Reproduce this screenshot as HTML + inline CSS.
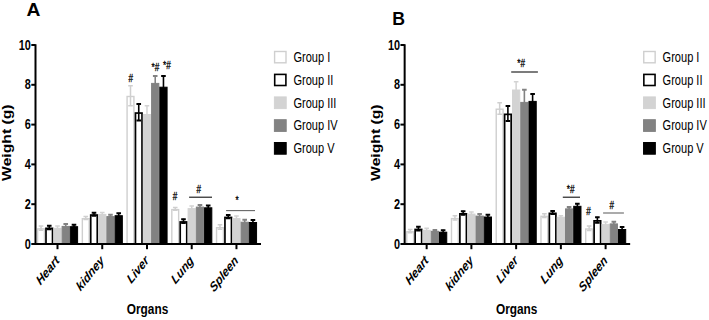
<!DOCTYPE html>
<html><head><meta charset="utf-8"><style>
html,body{margin:0;padding:0;background:#fff;}
svg{display:block;}
text{font-family:"Liberation Sans",sans-serif;fill:#000;}
.tl{font-size:14px;font-weight:bold;}
.xl{font-size:13.5px;font-weight:bold;font-style:italic;}
.yt{font-size:15.7px;font-weight:bold;}
.xt{font-size:15px;font-weight:bold;}
.lg{font-size:14px;}
.an{font-size:10.3px;}
.pl{font-size:18px;font-weight:bold;}
</style></head><body>
<svg width="709" height="320" viewBox="0 0 709 320">
<rect width="709" height="320" fill="#fff"/>
<rect x="37.6" y="228.9" width="6.84" height="15.1" fill="#ffffff" stroke="#cfcfcf" stroke-width="1.4"/>
<path d="M41.02 225.9V230.5" stroke="#cfcfcf" stroke-width="1.5" fill="none"/>
<path d="M38.72 226.05H43.32M38.72 230.35H43.32" stroke="#cfcfcf" stroke-width="1.5" fill="none"/>
<rect x="45.99" y="228.35" width="6.54" height="15.65" fill="#ffffff" stroke="#000000" stroke-width="1.7"/>
<path d="M49.26 225.3V229.7" stroke="#000000" stroke-width="1.6" fill="none"/>
<path d="M46.96 225.7H51.56M46.96 229.3H51.56" stroke="#000000" stroke-width="2.0" fill="none"/>
<rect x="53.88" y="228.3" width="7.24" height="15.7" fill="#d3d3d3" stroke="#d3d3d3" stroke-width="1"/>
<path d="M57.5 225.9V229.7" stroke="#d3d3d3" stroke-width="1.5" fill="none"/>
<path d="M55.2 226.05H59.8M55.2 229.55H59.8" stroke="#d3d3d3" stroke-width="1.5" fill="none"/>
<rect x="62.12" y="226.4" width="7.24" height="17.6" fill="#828282" stroke="#828282" stroke-width="1"/>
<path d="M65.74 223.7V228.1" stroke="#828282" stroke-width="1.6" fill="none"/>
<path d="M63.44 224.1H68.04M63.44 227.7H68.04" stroke="#828282" stroke-width="2.0" fill="none"/>
<rect x="70.36" y="226.7" width="7.24" height="17.3" fill="#000000" stroke="#000000" stroke-width="1"/>
<path d="M73.98 224.3V228.1" stroke="#000000" stroke-width="1.6" fill="none"/>
<path d="M71.68 224.7H76.28M71.68 227.7H76.28" stroke="#000000" stroke-width="2.0" fill="none"/>
<rect x="82.34" y="218.7" width="6.84" height="25.3" fill="#ffffff" stroke="#cfcfcf" stroke-width="1.4"/>
<path d="M85.76 216.4V219.6" stroke="#cfcfcf" stroke-width="1.5" fill="none"/>
<path d="M83.46 216.55H88.06M83.46 219.45H88.06" stroke="#cfcfcf" stroke-width="1.5" fill="none"/>
<rect x="90.73" y="215.05" width="6.54" height="28.95" fill="#ffffff" stroke="#000000" stroke-width="1.7"/>
<path d="M94 212.3V216.1" stroke="#000000" stroke-width="1.6" fill="none"/>
<path d="M91.7 212.7H96.3M91.7 215.7H96.3" stroke="#000000" stroke-width="2.0" fill="none"/>
<rect x="98.62" y="214.4" width="7.24" height="29.6" fill="#d3d3d3" stroke="#d3d3d3" stroke-width="1"/>
<path d="M102.24 212.3V215.5" stroke="#d3d3d3" stroke-width="1.5" fill="none"/>
<path d="M99.94 212.45H104.54M99.94 215.35H104.54" stroke="#d3d3d3" stroke-width="1.5" fill="none"/>
<rect x="106.86" y="216.6" width="7.24" height="27.4" fill="#828282" stroke="#828282" stroke-width="1"/>
<path d="M110.48 214.4V217.8" stroke="#828282" stroke-width="1.6" fill="none"/>
<path d="M108.18 214.8H112.78M108.18 217.4H112.78" stroke="#828282" stroke-width="2.0" fill="none"/>
<rect x="115.1" y="215.7" width="7.24" height="28.3" fill="#000000" stroke="#000000" stroke-width="1"/>
<path d="M118.72 212.9V217.5" stroke="#000000" stroke-width="1.6" fill="none"/>
<path d="M116.42 213.3H121.02M116.42 217.1H121.02" stroke="#000000" stroke-width="2.0" fill="none"/>
<rect x="127.08" y="96.5" width="6.84" height="147.5" fill="#ffffff" stroke="#cfcfcf" stroke-width="1.4"/>
<path d="M130.5 85.6V106" stroke="#cfcfcf" stroke-width="1.5" fill="none"/>
<path d="M128.2 85.75H132.8M128.2 105.85H132.8" stroke="#cfcfcf" stroke-width="1.5" fill="none"/>
<rect x="135.47" y="113.05" width="6.54" height="130.95" fill="#ffffff" stroke="#000000" stroke-width="1.7"/>
<path d="M138.74 103.5V120.9" stroke="#000000" stroke-width="1.6" fill="none"/>
<path d="M136.44 103.9H141.04M136.44 120.5H141.04" stroke="#000000" stroke-width="2.0" fill="none"/>
<rect x="143.36" y="114.5" width="7.24" height="129.5" fill="#d3d3d3" stroke="#d3d3d3" stroke-width="1"/>
<path d="M146.98 105.7V122.3" stroke="#d3d3d3" stroke-width="1.5" fill="none"/>
<path d="M144.68 105.85H149.28M144.68 122.15H149.28" stroke="#d3d3d3" stroke-width="1.5" fill="none"/>
<rect x="151.6" y="83.4" width="7.24" height="160.6" fill="#828282" stroke="#828282" stroke-width="1"/>
<path d="M155.22 75.7V90.1" stroke="#828282" stroke-width="1.6" fill="none"/>
<path d="M152.92 76.1H157.52M152.92 89.7H157.52" stroke="#828282" stroke-width="2.0" fill="none"/>
<rect x="159.84" y="87.2" width="7.24" height="156.8" fill="#000000" stroke="#000000" stroke-width="1"/>
<path d="M163.46 75.7V97.7" stroke="#000000" stroke-width="1.6" fill="none"/>
<path d="M161.16 76.1H165.76M161.16 97.3H165.76" stroke="#000000" stroke-width="2.0" fill="none"/>
<rect x="171.82" y="209.6" width="6.84" height="34.4" fill="#ffffff" stroke="#cfcfcf" stroke-width="1.4"/>
<path d="M175.24 207.3V210.5" stroke="#cfcfcf" stroke-width="1.5" fill="none"/>
<path d="M172.94 207.45H177.54M172.94 210.35H177.54" stroke="#cfcfcf" stroke-width="1.5" fill="none"/>
<rect x="180.21" y="221.95" width="6.54" height="22.05" fill="#ffffff" stroke="#000000" stroke-width="1.7"/>
<path d="M183.48 218.75V223.45" stroke="#000000" stroke-width="1.6" fill="none"/>
<path d="M181.18 219.15H185.78M181.18 223.05H185.78" stroke="#000000" stroke-width="2.0" fill="none"/>
<rect x="188.1" y="208.6" width="7.24" height="35.4" fill="#d3d3d3" stroke="#d3d3d3" stroke-width="1"/>
<path d="M191.72 205.8V210.4" stroke="#d3d3d3" stroke-width="1.5" fill="none"/>
<path d="M189.42 205.95H194.02M189.42 210.25H194.02" stroke="#d3d3d3" stroke-width="1.5" fill="none"/>
<rect x="196.34" y="207.1" width="7.24" height="36.9" fill="#828282" stroke="#828282" stroke-width="1"/>
<path d="M199.96 204.5V208.7" stroke="#828282" stroke-width="1.6" fill="none"/>
<path d="M197.66 204.9H202.26M197.66 208.3H202.26" stroke="#828282" stroke-width="2.0" fill="none"/>
<rect x="204.58" y="207.8" width="7.24" height="36.2" fill="#000000" stroke="#000000" stroke-width="1"/>
<path d="M208.2 205V209.6" stroke="#000000" stroke-width="1.6" fill="none"/>
<path d="M205.9 205.4H210.5M205.9 209.2H210.5" stroke="#000000" stroke-width="2.0" fill="none"/>
<rect x="216.56" y="227.7" width="6.84" height="16.3" fill="#ffffff" stroke="#cfcfcf" stroke-width="1.4"/>
<path d="M219.98 224.7V229.3" stroke="#cfcfcf" stroke-width="1.5" fill="none"/>
<path d="M217.68 224.85H222.28M217.68 229.15H222.28" stroke="#cfcfcf" stroke-width="1.5" fill="none"/>
<rect x="224.95" y="217.45" width="6.54" height="26.55" fill="#ffffff" stroke="#000000" stroke-width="1.7"/>
<path d="M228.22 214.5V218.7" stroke="#000000" stroke-width="1.6" fill="none"/>
<path d="M225.92 214.9H230.52M225.92 218.3H230.52" stroke="#000000" stroke-width="2.0" fill="none"/>
<rect x="232.84" y="218.6" width="7.24" height="25.4" fill="#d3d3d3" stroke="#d3d3d3" stroke-width="1"/>
<path d="M236.46 215.8V220.4" stroke="#d3d3d3" stroke-width="1.5" fill="none"/>
<path d="M234.16 215.95H238.76M234.16 220.25H238.76" stroke="#d3d3d3" stroke-width="1.5" fill="none"/>
<rect x="241.08" y="222.2" width="7.24" height="21.8" fill="#828282" stroke="#828282" stroke-width="1"/>
<path d="M244.7 219.4V224" stroke="#828282" stroke-width="1.6" fill="none"/>
<path d="M242.4 219.8H247M242.4 223.6H247" stroke="#828282" stroke-width="2.0" fill="none"/>
<rect x="249.32" y="222.5" width="7.24" height="21.5" fill="#000000" stroke="#000000" stroke-width="1"/>
<path d="M252.94 219.7V224.3" stroke="#000000" stroke-width="1.6" fill="none"/>
<path d="M250.64 220.1H255.24M250.64 223.9H255.24" stroke="#000000" stroke-width="2.0" fill="none"/>
<path d="M35.5 44.2V245M34.5 244H261" stroke="#000" stroke-width="2" fill="none"/>
<path d="M31.3 244H35.5" stroke="#000" stroke-width="2"/>
<text transform="translate(30.9,248.6) scale(0.78,1)" text-anchor="end" class="tl">0</text>
<path d="M31.3 204.2H35.5" stroke="#000" stroke-width="2"/>
<text transform="translate(30.9,208.8) scale(0.78,1)" text-anchor="end" class="tl">2</text>
<path d="M31.3 164.4H35.5" stroke="#000" stroke-width="2"/>
<text transform="translate(30.9,169) scale(0.78,1)" text-anchor="end" class="tl">4</text>
<path d="M31.3 124.6H35.5" stroke="#000" stroke-width="2"/>
<text transform="translate(30.9,129.2) scale(0.78,1)" text-anchor="end" class="tl">6</text>
<path d="M31.3 84.8H35.5" stroke="#000" stroke-width="2"/>
<text transform="translate(30.9,89.4) scale(0.78,1)" text-anchor="end" class="tl">8</text>
<path d="M31.3 45H35.5" stroke="#000" stroke-width="2"/>
<text transform="translate(30.9,49.6) scale(0.78,1)" text-anchor="end" class="tl">10</text>
<path d="M57.5 244V249.2" stroke="#000" stroke-width="2"/>
<text transform="translate(60,261.4) scale(0.8,1) rotate(-45)" text-anchor="end" class="xl">Heart</text>
<path d="M102.24 244V249.2" stroke="#000" stroke-width="2"/>
<text transform="translate(104.74,261.4) scale(0.8,1) rotate(-45)" text-anchor="end" class="xl">kidney</text>
<path d="M146.98 244V249.2" stroke="#000" stroke-width="2"/>
<text transform="translate(149.48,261.4) scale(0.8,1) rotate(-45)" text-anchor="end" class="xl">Liver</text>
<path d="M191.72 244V249.2" stroke="#000" stroke-width="2"/>
<text transform="translate(194.22,261.4) scale(0.8,1) rotate(-45)" text-anchor="end" class="xl">Lung</text>
<path d="M236.46 244V249.2" stroke="#000" stroke-width="2"/>
<text transform="translate(238.96,261.4) scale(0.8,1) rotate(-45)" text-anchor="end" class="xl">Spleen</text>
<text transform="translate(10.8,142.7) scale(0.8,1) rotate(-90)" text-anchor="middle" class="yt">Weight (g)</text>
<text transform="translate(147.5,313.6) scale(0.79,1)" text-anchor="middle" class="xt">Organs</text>
<rect x="274.6" y="51.5" width="11.4" height="11.3" fill="#ffffff" stroke="#cfcfcf" stroke-width="1.4"/>
<text transform="translate(293.4,61.9) scale(0.79,1)" class="lg">Group I</text>
<rect x="274.7" y="74.4" width="11.2" height="11.1" fill="#ffffff" stroke="#000000" stroke-width="1.6"/>
<text transform="translate(293.4,84.7) scale(0.79,1)" class="lg">Group II</text>
<rect x="274.4" y="96.9" width="11.8" height="11.7" fill="#d3d3d3" stroke="#d3d3d3" stroke-width="1"/>
<text transform="translate(293.4,107.5) scale(0.79,1)" class="lg">Group III</text>
<rect x="274.4" y="119.7" width="11.8" height="11.7" fill="#828282" stroke="#828282" stroke-width="1"/>
<text transform="translate(293.4,130.3) scale(0.79,1)" class="lg">Group IV</text>
<rect x="274.4" y="142.5" width="11.8" height="11.7" fill="#000000" stroke="#000000" stroke-width="1"/>
<text transform="translate(293.4,153.1) scale(0.79,1)" class="lg">Group V</text>
<text transform="translate(130.7,82.2) scale(0.79,1)" text-anchor="middle" class="an" stroke="#000" stroke-width="0.3">#</text>
<text transform="translate(155.4,70.6) scale(0.79,1)" text-anchor="middle" class="an" stroke="#000" stroke-width="0.3">*#</text>
<text transform="translate(166.9,68.7) scale(0.79,1)" text-anchor="middle" class="an" stroke="#000" stroke-width="0.3">*#</text>
<text transform="translate(175,199.5) scale(0.79,1)" text-anchor="middle" class="an" stroke="#000" stroke-width="0.3">#</text>
<path d="M189.1 197.2H212" stroke="#111" stroke-width="1.1"/>
<text transform="translate(198.7,192.8) scale(0.79,1)" text-anchor="middle" class="an" stroke="#000" stroke-width="0.3">#</text>
<path d="M226.1 210.6H255" stroke="#666" stroke-width="1.1"/>
<text transform="translate(237.2,204) scale(0.79,1)" text-anchor="middle" class="an" stroke="#000" stroke-width="0.3">*</text>
<text transform="translate(26.5,15.7) scale(1.07,1)" class="pl">A</text>
<rect x="406.75" y="231.8" width="6.84" height="12.2" fill="#ffffff" stroke="#cfcfcf" stroke-width="1.4"/>
<path d="M410.17 229.4V232.8" stroke="#cfcfcf" stroke-width="1.5" fill="none"/>
<path d="M407.87 229.55H412.47M407.87 232.65H412.47" stroke="#cfcfcf" stroke-width="1.5" fill="none"/>
<rect x="415.14" y="229.45" width="6.54" height="14.55" fill="#ffffff" stroke="#000000" stroke-width="1.7"/>
<path d="M418.41 226.3V230.9" stroke="#000000" stroke-width="1.6" fill="none"/>
<path d="M416.11 226.7H420.71M416.11 230.5H420.71" stroke="#000000" stroke-width="2.0" fill="none"/>
<rect x="423.03" y="230.3" width="7.24" height="13.7" fill="#d3d3d3" stroke="#d3d3d3" stroke-width="1"/>
<path d="M426.65 228.1V231.5" stroke="#d3d3d3" stroke-width="1.5" fill="none"/>
<path d="M424.35 228.25H428.95M424.35 231.35H428.95" stroke="#d3d3d3" stroke-width="1.5" fill="none"/>
<rect x="431.27" y="231.3" width="7.24" height="12.7" fill="#828282" stroke="#828282" stroke-width="1"/>
<path d="M434.89 229.5V232.1" stroke="#828282" stroke-width="1.6" fill="none"/>
<path d="M432.59 229.9H437.19M432.59 231.7H437.19" stroke="#828282" stroke-width="2.0" fill="none"/>
<rect x="439.51" y="232.2" width="7.24" height="11.8" fill="#000000" stroke="#000000" stroke-width="1"/>
<path d="M443.13 229.8V233.6" stroke="#000000" stroke-width="1.6" fill="none"/>
<path d="M440.83 230.2H445.43M440.83 233.2H445.43" stroke="#000000" stroke-width="2.0" fill="none"/>
<rect x="451.49" y="218.6" width="6.84" height="25.4" fill="#ffffff" stroke="#cfcfcf" stroke-width="1.4"/>
<path d="M454.91 215.6V220.2" stroke="#cfcfcf" stroke-width="1.5" fill="none"/>
<path d="M452.61 215.75H457.21M452.61 220.05H457.21" stroke="#cfcfcf" stroke-width="1.5" fill="none"/>
<rect x="459.88" y="213.85" width="6.54" height="30.15" fill="#ffffff" stroke="#000000" stroke-width="1.7"/>
<path d="M463.15 210.8V215.2" stroke="#000000" stroke-width="1.6" fill="none"/>
<path d="M460.85 211.2H465.45M460.85 214.8H465.45" stroke="#000000" stroke-width="2.0" fill="none"/>
<rect x="467.77" y="214.1" width="7.24" height="29.9" fill="#d3d3d3" stroke="#d3d3d3" stroke-width="1"/>
<path d="M471.39 211.8V215.4" stroke="#d3d3d3" stroke-width="1.5" fill="none"/>
<path d="M469.09 211.95H473.69M469.09 215.25H473.69" stroke="#d3d3d3" stroke-width="1.5" fill="none"/>
<rect x="476.01" y="216.1" width="7.24" height="27.9" fill="#828282" stroke="#828282" stroke-width="1"/>
<path d="M479.63 213.6V217.6" stroke="#828282" stroke-width="1.6" fill="none"/>
<path d="M477.33 214H481.93M477.33 217.2H481.93" stroke="#828282" stroke-width="2.0" fill="none"/>
<rect x="484.25" y="217" width="7.24" height="27" fill="#000000" stroke="#000000" stroke-width="1"/>
<path d="M487.87 214.4V218.6" stroke="#000000" stroke-width="1.6" fill="none"/>
<path d="M485.57 214.8H490.17M485.57 218.2H490.17" stroke="#000000" stroke-width="2.0" fill="none"/>
<rect x="496.23" y="109.2" width="6.84" height="134.8" fill="#ffffff" stroke="#cfcfcf" stroke-width="1.4"/>
<path d="M499.65 102.6V114.4" stroke="#cfcfcf" stroke-width="1.5" fill="none"/>
<path d="M497.35 102.75H501.95M497.35 114.25H501.95" stroke="#cfcfcf" stroke-width="1.5" fill="none"/>
<rect x="504.62" y="114.35" width="6.54" height="129.65" fill="#ffffff" stroke="#000000" stroke-width="1.7"/>
<path d="M507.89 105.7V121.3" stroke="#000000" stroke-width="1.6" fill="none"/>
<path d="M505.59 106.1H510.19M505.59 120.9H510.19" stroke="#000000" stroke-width="2.0" fill="none"/>
<rect x="512.51" y="90" width="7.24" height="154" fill="#d3d3d3" stroke="#d3d3d3" stroke-width="1"/>
<path d="M516.13 81.6V97.4" stroke="#d3d3d3" stroke-width="1.5" fill="none"/>
<path d="M513.83 81.75H518.43M513.83 97.25H518.43" stroke="#d3d3d3" stroke-width="1.5" fill="none"/>
<rect x="520.75" y="102.4" width="7.24" height="141.6" fill="#828282" stroke="#828282" stroke-width="1"/>
<path d="M524.37 89.3V114.5" stroke="#828282" stroke-width="1.6" fill="none"/>
<path d="M522.07 89.7H526.67M522.07 114.1H526.67" stroke="#828282" stroke-width="2.0" fill="none"/>
<rect x="528.99" y="101.4" width="7.24" height="142.6" fill="#000000" stroke="#000000" stroke-width="1"/>
<path d="M532.61 93.6V108.2" stroke="#000000" stroke-width="1.6" fill="none"/>
<path d="M530.31 94H534.91M530.31 107.8H534.91" stroke="#000000" stroke-width="2.0" fill="none"/>
<rect x="540.97" y="216.3" width="6.84" height="27.7" fill="#ffffff" stroke="#cfcfcf" stroke-width="1.4"/>
<path d="M544.39 213.6V217.6" stroke="#cfcfcf" stroke-width="1.5" fill="none"/>
<path d="M542.09 213.75H546.69M542.09 217.45H546.69" stroke="#cfcfcf" stroke-width="1.5" fill="none"/>
<rect x="549.36" y="213.35" width="6.54" height="30.65" fill="#ffffff" stroke="#000000" stroke-width="1.7"/>
<path d="M552.63 210.5V214.5" stroke="#000000" stroke-width="1.6" fill="none"/>
<path d="M550.33 210.9H554.93M550.33 214.1H554.93" stroke="#000000" stroke-width="2.0" fill="none"/>
<rect x="557.25" y="217.2" width="7.24" height="26.8" fill="#d3d3d3" stroke="#d3d3d3" stroke-width="1"/>
<path d="M560.87 215.6V217.8" stroke="#d3d3d3" stroke-width="1.5" fill="none"/>
<path d="M558.57 215.75H563.17M558.57 217.65H563.17" stroke="#d3d3d3" stroke-width="1.5" fill="none"/>
<rect x="565.49" y="208.9" width="7.24" height="35.1" fill="#828282" stroke="#828282" stroke-width="1"/>
<path d="M569.11 206.6V210.2" stroke="#828282" stroke-width="1.6" fill="none"/>
<path d="M566.81 207H571.41M566.81 209.8H571.41" stroke="#828282" stroke-width="2.0" fill="none"/>
<rect x="573.73" y="206.3" width="7.24" height="37.7" fill="#000000" stroke="#000000" stroke-width="1"/>
<path d="M577.35 203.4V208.2" stroke="#000000" stroke-width="1.6" fill="none"/>
<path d="M575.05 203.8H579.65M575.05 207.8H579.65" stroke="#000000" stroke-width="2.0" fill="none"/>
<rect x="585.71" y="229" width="6.84" height="15" fill="#ffffff" stroke="#cfcfcf" stroke-width="1.4"/>
<path d="M589.13 225.9V230.7" stroke="#cfcfcf" stroke-width="1.5" fill="none"/>
<path d="M586.83 226.05H591.43M586.83 230.55H591.43" stroke="#cfcfcf" stroke-width="1.5" fill="none"/>
<rect x="594.1" y="220.85" width="6.54" height="23.15" fill="#ffffff" stroke="#000000" stroke-width="1.7"/>
<path d="M597.37 216.9V223.1" stroke="#000000" stroke-width="1.6" fill="none"/>
<path d="M595.07 217.3H599.67M595.07 222.7H599.67" stroke="#000000" stroke-width="2.0" fill="none"/>
<rect x="601.99" y="224.4" width="7.24" height="19.6" fill="#d3d3d3" stroke="#d3d3d3" stroke-width="1"/>
<path d="M605.61 221.9V225.9" stroke="#d3d3d3" stroke-width="1.5" fill="none"/>
<path d="M603.31 222.05H607.91M603.31 225.75H607.91" stroke="#d3d3d3" stroke-width="1.5" fill="none"/>
<rect x="610.23" y="223.9" width="7.24" height="20.1" fill="#828282" stroke="#828282" stroke-width="1"/>
<path d="M613.85 221.25V225.55" stroke="#828282" stroke-width="1.6" fill="none"/>
<path d="M611.55 221.65H616.15M611.55 225.15H616.15" stroke="#828282" stroke-width="2.0" fill="none"/>
<rect x="618.47" y="229.5" width="7.24" height="14.5" fill="#000000" stroke="#000000" stroke-width="1"/>
<path d="M622.09 226.7V231.3" stroke="#000000" stroke-width="1.6" fill="none"/>
<path d="M619.79 227.1H624.39M619.79 230.9H624.39" stroke="#000000" stroke-width="2.0" fill="none"/>
<path d="M404.65 44.2V245M403.65 244H630.15" stroke="#000" stroke-width="2" fill="none"/>
<path d="M400.45 244H404.65" stroke="#000" stroke-width="2"/>
<text transform="translate(400.05,248.6) scale(0.78,1)" text-anchor="end" class="tl">0</text>
<path d="M400.45 204.2H404.65" stroke="#000" stroke-width="2"/>
<text transform="translate(400.05,208.8) scale(0.78,1)" text-anchor="end" class="tl">2</text>
<path d="M400.45 164.4H404.65" stroke="#000" stroke-width="2"/>
<text transform="translate(400.05,169) scale(0.78,1)" text-anchor="end" class="tl">4</text>
<path d="M400.45 124.6H404.65" stroke="#000" stroke-width="2"/>
<text transform="translate(400.05,129.2) scale(0.78,1)" text-anchor="end" class="tl">6</text>
<path d="M400.45 84.8H404.65" stroke="#000" stroke-width="2"/>
<text transform="translate(400.05,89.4) scale(0.78,1)" text-anchor="end" class="tl">8</text>
<path d="M400.45 45H404.65" stroke="#000" stroke-width="2"/>
<text transform="translate(400.05,49.6) scale(0.78,1)" text-anchor="end" class="tl">10</text>
<path d="M426.65 244V249.2" stroke="#000" stroke-width="2"/>
<text transform="translate(429.15,261.4) scale(0.8,1) rotate(-45)" text-anchor="end" class="xl">Heart</text>
<path d="M471.39 244V249.2" stroke="#000" stroke-width="2"/>
<text transform="translate(473.89,261.4) scale(0.8,1) rotate(-45)" text-anchor="end" class="xl">kidney</text>
<path d="M516.13 244V249.2" stroke="#000" stroke-width="2"/>
<text transform="translate(518.63,261.4) scale(0.8,1) rotate(-45)" text-anchor="end" class="xl">Liver</text>
<path d="M560.87 244V249.2" stroke="#000" stroke-width="2"/>
<text transform="translate(563.37,261.4) scale(0.8,1) rotate(-45)" text-anchor="end" class="xl">Lung</text>
<path d="M605.61 244V249.2" stroke="#000" stroke-width="2"/>
<text transform="translate(608.11,261.4) scale(0.8,1) rotate(-45)" text-anchor="end" class="xl">Spleen</text>
<text transform="translate(379.95,142.7) scale(0.8,1) rotate(-90)" text-anchor="middle" class="yt">Weight (g)</text>
<text transform="translate(516.65,313.6) scale(0.79,1)" text-anchor="middle" class="xt">Organs</text>
<rect x="643.75" y="51.5" width="11.4" height="11.3" fill="#ffffff" stroke="#cfcfcf" stroke-width="1.4"/>
<text transform="translate(662.55,61.9) scale(0.79,1)" class="lg">Group I</text>
<rect x="643.85" y="74.4" width="11.2" height="11.1" fill="#ffffff" stroke="#000000" stroke-width="1.6"/>
<text transform="translate(662.55,84.7) scale(0.79,1)" class="lg">Group II</text>
<rect x="643.55" y="96.9" width="11.8" height="11.7" fill="#d3d3d3" stroke="#d3d3d3" stroke-width="1"/>
<text transform="translate(662.55,107.5) scale(0.79,1)" class="lg">Group III</text>
<rect x="643.55" y="119.7" width="11.8" height="11.7" fill="#828282" stroke="#828282" stroke-width="1"/>
<text transform="translate(662.55,130.3) scale(0.79,1)" class="lg">Group IV</text>
<rect x="643.55" y="142.5" width="11.8" height="11.7" fill="#000000" stroke="#000000" stroke-width="1"/>
<text transform="translate(662.55,153.1) scale(0.79,1)" class="lg">Group V</text>
<path d="M511.2 72H537.9" stroke="#111" stroke-width="1.1"/>
<text transform="translate(521.2,67) scale(0.79,1)" text-anchor="middle" class="an" stroke="#000" stroke-width="0.3">*#</text>
<path d="M562.8 197.2H580" stroke="#111" stroke-width="1.1"/>
<text transform="translate(570.6,193) scale(0.79,1)" text-anchor="middle" class="an" stroke="#000" stroke-width="0.3">*#</text>
<text transform="translate(588.6,214.5) scale(0.79,1)" text-anchor="middle" class="an" stroke="#000" stroke-width="0.3">#</text>
<path d="M603.1 213H623.9" stroke="#666" stroke-width="1.1"/>
<text transform="translate(611.7,209) scale(0.79,1)" text-anchor="middle" class="an" stroke="#000" stroke-width="0.3">#</text>
<text transform="translate(392.3,24.6) scale(0.98,1)" class="pl">B</text>
</svg>
</body></html>
